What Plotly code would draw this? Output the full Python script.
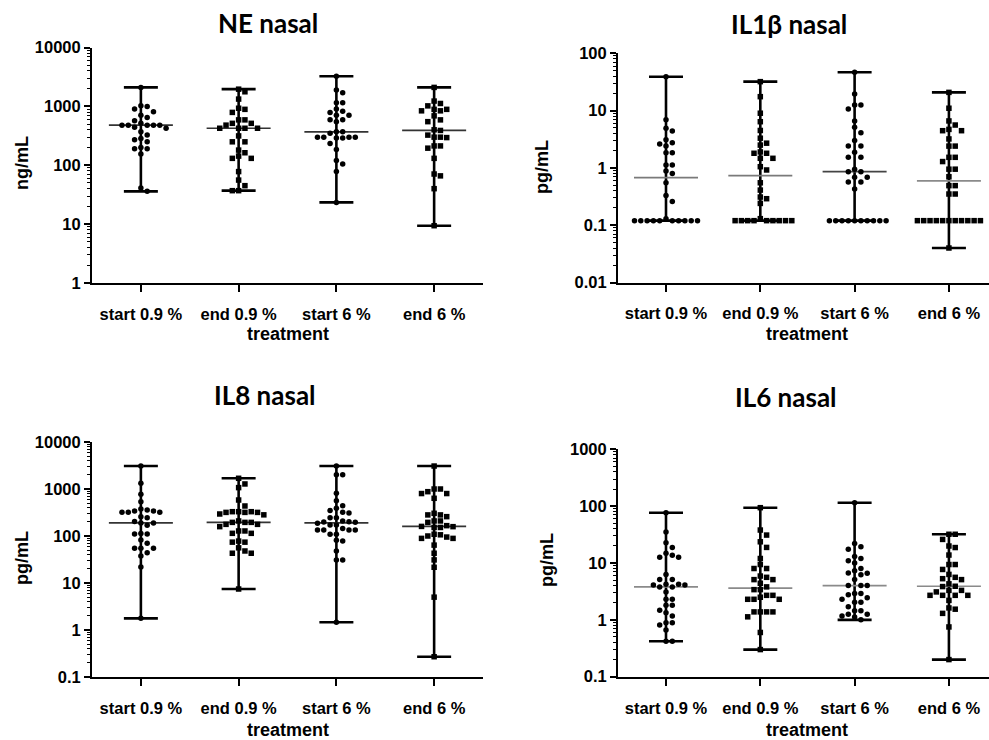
import numpy as np
import plotly.graph_objects as go

# ---------------- data ----------------
categories = ["start 0.9 %", "end 0.9 %", "start 6 %", "end 6 %"]

ne_ticks = [1, 10, 100, 1000, 10000]
ne_ticktext = ["1", "10", "100", "1000", "10000"]
il1b_ticks = [0.01, 0.1, 1, 10, 100]
il1b_ticktext = ["0.01", "0.1", "1", "10", "100"]
il8_ticks = [0.1, 1, 10, 100, 1000, 10000]
il8_ticktext = ["0.1", "1", "10", "100", "1000", "10000"]
il6_ticks = [0.1, 1, 10, 100, 1000]
il6_ticktext = ["0.1", "1", "10", "100", "1000"]

ne_start09 = [2100, 1020, 1000, 900, 810, 710, 650, 570, 515, 480, 480, 480, 480, 480,
              440, 425, 370, 325, 285, 270, 250, 200, 190, 190, 155, 41, 36]
ne_end09 = [1960, 1770, 1330, 930, 890, 790, 590, 590, 515, 515, 480, 425, 425, 425, 425,
            315, 250, 250, 181, 163, 143, 131, 131, 78, 56, 45, 37, 37]
ne_start6 = [3250, 1900, 1700, 1150, 1150, 900, 830, 790, 710, 710, 590, 590, 550, 370, 370,
             350, 300, 300, 300, 300, 290, 290, 235, 186, 120, 105, 78, 23.4]
ne_end6 = [2100, 1230, 1120, 1020, 890, 890, 840, 840, 690, 590, 550, 400, 390, 325, 300,
           300, 295, 213, 213, 195, 131, 71, 66, 40, 9.4]

il1b_start09 = [39, 6.9, 4.9, 4.4, 3.1, 2.75, 2.6, 2.4, 1.84, 1.84, 1.12, 1.12, 0.88, 0.80,
                0.55, 0.33, 0.26, 0.13, 0.12, 0.12, 0.12, 0.12, 0.12, 0.12, 0.12, 0.12,
                0.12, 0.12]
il1b_end09 = [32, 17.5, 9.0, 6.4, 4.5, 3.3, 2.7, 2.5, 1.9, 1.8, 1.8, 1.47, 1.47, 1.05, 0.92,
              0.55, 0.41, 0.31, 0.29, 0.24, 0.13, 0.12, 0.12, 0.12, 0.12, 0.12, 0.12, 0.12,
              0.12, 0.12]
il1b_start6 = [46.6, 19.5, 12.5, 12.5, 10.7, 6.6, 5.1, 4.1, 3.0, 2.4, 2.4, 1.87, 1.53, 1.53,
               0.95, 0.86, 0.86, 0.69, 0.69, 0.57, 0.57, 0.43, 0.12, 0.12, 0.12, 0.12, 0.12,
               0.12, 0.12, 0.12, 0.12, 0.12]
il1b_end6 = [20.8, 11, 6.6, 5.6, 4.7, 4.46, 4.46, 3.2, 2.4, 2.4, 1.53, 1.53, 1.29, 0.95, 0.95,
             0.70, 0.49, 0.49, 0.35, 0.35, 0.12, 0.12, 0.12, 0.12, 0.12, 0.12, 0.12, 0.12,
             0.12, 0.12, 0.12, 0.04]

il8_start09 = [3080, 1320, 770, 537, 375, 357, 340, 340, 319, 319, 319, 257, 245, 204, 190,
               188, 170, 113, 110, 110, 82, 70, 55, 55, 55, 44, 37.5, 22, 1.77]
il8_end09 = [1690, 1280, 1070, 583, 435, 329, 329, 329, 318, 318, 318, 294, 282, 209, 195,
             195, 195, 177, 177, 158, 128, 128, 114, 114, 78, 74, 74, 56, 48, 43, 43, 7.45]
il8_start6 = [3080, 2010, 2010, 810, 564, 442, 388, 350, 319, 310, 245, 245, 209, 201, 199,
              195, 186, 171, 171, 145, 134, 134, 134, 134, 109, 109, 81, 78, 48, 31, 31, 1.46]
il8_end6 = [3080, 1000, 1000, 877, 800, 800, 634, 304, 281, 281, 258, 209, 209, 195, 166,
            160, 158, 152, 152, 109, 106, 100, 95, 89, 89, 64, 43, 31, 21.6, 5.0, 0.27]

il6_start09 = [76.5, 35, 22.7, 18.8, 14.8, 13.7, 12.6, 12.6, 6.3, 5.1, 5.1, 4.25, 4.25, 4.1,
               4.1, 3.8, 3.8, 3.1, 2.3, 2.3, 1.8, 1.8, 1.48, 1.33, 1.17, 0.885, 0.885, 0.81,
               0.66, 0.42, 0.42]
il6_end09 = [94, 38, 31, 23.6, 18.8, 12, 9.4, 8.0, 8.0, 5.9, 5.6, 5.1, 5.1, 4.4, 3.8, 3.4,
             3.4, 2.7, 2.7, 2.5, 2.3, 2.3, 2.3, 1.38, 1.38, 1.38, 1.38, 1.13, 0.6, 0.30]
il6_start6 = [115, 22, 19.3, 17.4, 13, 12, 10.9, 10, 8, 7.3, 6.7, 6.6, 6.2, 5.1, 4.0, 4.0,
              4.0, 2.9, 2.9, 2.75, 2.45, 2.3, 2.04, 2.04, 1.7, 1.44, 1.44, 1.26, 1.26, 1.17,
              1.12, 1.0]
il6_end6 = [32, 32, 26, 19.9, 18.7, 13.8, 9.4, 9.4, 7.7, 6.3, 5.6, 5.3, 5.1, 4.3, 3.9, 3.85,
            3.3, 3.3, 3.1, 2.7, 2.7, 2.7, 2.7, 2.2, 1.62, 1.54, 1.3, 0.75, 0.20]

# ---------------- layout (pixel geometry) ----------------
W, H = 989, 740
panels = [
    dict(title="NE nasal", ylabel="ng/mL", groups=[ne_start09, ne_end09, ne_start6, ne_end6],
         ticks=ne_ticks, ticktext=ne_ticktext,
         x0=92, x1=483, xr=[-0.5, 3.5], ytop=47.5, ybot=283, yr=[0, 4],
         title_xy=(268, 23), ylab_xy=(22, 163), xlab_xy=(288, 334),
         med_colors=["#333333"] * 4),
    dict(title="IL1β nasal", ylabel="pg/mL", groups=[il1b_start09, il1b_end09, il1b_start6, il1b_end6],
         ticks=il1b_ticks, ticktext=il1b_ticktext,
         x0=618, x1=989, xr=[-0.509, 3.425], ytop=53.3, ybot=282.5, yr=[-2, 2],
         title_xy=(789, 24), ylab_xy=(542, 167), xlab_xy=(807, 334),
         med_colors=["#7a7a7a", "#7a7a7a", "#444444", "#8a8a8a"]),
    dict(title="IL8 nasal", ylabel="pg/mL", groups=[il8_start09, il8_end09, il8_start6, il8_end6],
         ticks=il8_ticks, ticktext=il8_ticktext,
         x0=92, x1=483, xr=[-0.5, 3.5], ytop=442, ybot=677, yr=[-1, 4],
         title_xy=(265, 395), ylab_xy=(22, 558), xlab_xy=(288, 730),
         med_colors=["#333333"] * 4),
    dict(title="IL6 nasal", ylabel="pg/mL", groups=[il6_start09, il6_end09, il6_start6, il6_end6],
         ticks=il6_ticks, ticktext=il6_ticktext,
         x0=618, x1=989, xr=[-0.509, 3.425], ytop=449.3, ybot=676.7, yr=[-1, 3],
         title_xy=(786, 397), ylab_xy=(547, 560), xlab_xy=(807, 730),
         med_colors=["#8a8a8a"] * 4),
]

symbols = ["circle", "square", "circle", "square"]
TICKFONT = dict(family="Liberation Sans, Arial, sans-serif", size=16.5, color="black", weight="bold")
LABELFONT = dict(family="Liberation Sans, Arial, sans-serif", size=18, color="black", weight="bold")
TITLEFONT = dict(family="Lato, Open Sans, sans-serif", size=26, color="black", weight="bold")


def swarm(values, ppd, ppu, dx=6.3, dmin=6.0):
    """Simple beeswarm: spread points horizontally so markers do not overlap."""
    logs = np.log10(np.asarray(values, dtype=float))
    order = np.argsort(-logs, kind="stable")
    placed = []
    offs = np.zeros(len(values))
    cand = [0]
    for j in range(1, 40):
        cand += [j, -j]
    for i in order:
        y = logs[i] * ppd
        x = 0.0
        for k in cand:
            x = k * dx
            if all((x - px) ** 2 + (y - py) ** 2 >= dmin ** 2 for px, py in placed):
                break
        placed.append((x, y))
        offs[i] = x / ppu
    return offs


fig = go.Figure()
layout = dict(width=W, height=H, margin=dict(l=0, r=0, t=0, b=0, autoexpand=False),
              paper_bgcolor="white", plot_bgcolor="white", showlegend=False,
              font=dict(family="Liberation Sans, Arial, sans-serif", color="black"))
annotations = []

for pi, p in enumerate(panels):
    n = pi + 1
    xa = "x" if n == 1 else f"x{n}"
    ya = "y" if n == 1 else f"y{n}"
    ppu = (p["x1"] - p["x0"]) / (p["xr"][1] - p["xr"][0])
    ppd = (p["ybot"] - p["ytop"]) / (p["yr"][1] - p["yr"][0])
    cap = 17 / ppu
    medw = 32 / ppu

    for g, vals in enumerate(p["groups"]):
        v = np.asarray(vals, dtype=float)
        vmin, vmax, med = v.min(), v.max(), float(np.median(v))
        # range whisker with caps
        fig.add_trace(go.Scatter(
            x=[g, g, None, g - cap, g + cap, None, g - cap, g + cap],
            y=[vmin, vmax, None, vmin, vmin, None, vmax, vmax],
            mode="lines", line=dict(color="black", width=2.6),
            xaxis=xa, yaxis=ya, hoverinfo="skip"))
        # median
        fig.add_trace(go.Scatter(
            x=[g - medw, g + medw], y=[med, med], mode="lines",
            line=dict(color=p["med_colors"][g], width=1.7),
            xaxis=xa, yaxis=ya, hoverinfo="skip"))
        # points
        offs = swarm(v, ppd, ppu)
        fig.add_trace(go.Scatter(
            x=g + offs, y=v, mode="markers",
            marker=dict(symbol=symbols[g], size=5.5, color="black", line=dict(width=0)),
            xaxis=xa, yaxis=ya, cliponaxis=False))

    lo, hi = p["yr"]
    minor_vals = [m * 10 ** d for d in range(int(lo), int(hi)) for m in range(2, 10)]

    layout["xaxis" if n == 1 else f"xaxis{n}"] = dict(
        domain=[p["x0"] / W, p["x1"] / W], range=p["xr"], anchor=ya, automargin=False,
        tickvals=[0, 1, 2, 3], ticktext=categories, ticks="outside", ticklen=7,
        tickwidth=2, tickcolor="black", showline=True, linewidth=2, linecolor="black",
        showgrid=False, zeroline=False, tickfont=TICKFONT, ticklabelstandoff=8,
        fixedrange=True)
    layout["yaxis" if n == 1 else f"yaxis{n}"] = dict(
        domain=[1 - p["ybot"] / H, 1 - p["ytop"] / H], type="log", range=p["yr"],
        anchor=xa, automargin=False, tickvals=p["ticks"], ticktext=p["ticktext"],
        ticks="outside", ticklen=6, tickwidth=2, tickcolor="black", showline=True,
        linewidth=2, linecolor="black", showgrid=False, zeroline=False, tickfont=TICKFONT,
        minor=dict(tickvals=minor_vals, ticks="outside", ticklen=3, tickwidth=1,
                   tickcolor="black", showgrid=False),
        fixedrange=True)

    tx, ty = p["title_xy"]
    annotations.append(dict(text=p["title"], x=tx / W, y=1 - ty / H, xref="paper", yref="paper",
                            xanchor="center", yanchor="middle", showarrow=False, font=TITLEFONT))
    lx, ly = p["ylab_xy"]
    annotations.append(dict(text=p["ylabel"], x=lx / W, y=1 - ly / H, xref="paper", yref="paper",
                            xanchor="center", yanchor="middle", showarrow=False, textangle=-90,
                            font=LABELFONT))
    bx, by = p["xlab_xy"]
    annotations.append(dict(text="treatment", x=bx / W, y=1 - by / H, xref="paper", yref="paper",
                            xanchor="center", yanchor="middle", showarrow=False, font=LABELFONT))

layout["annotations"] = annotations
layout["template"] = "simple_white"
fig.update_layout(**layout)
fig.write_html("out.html")
